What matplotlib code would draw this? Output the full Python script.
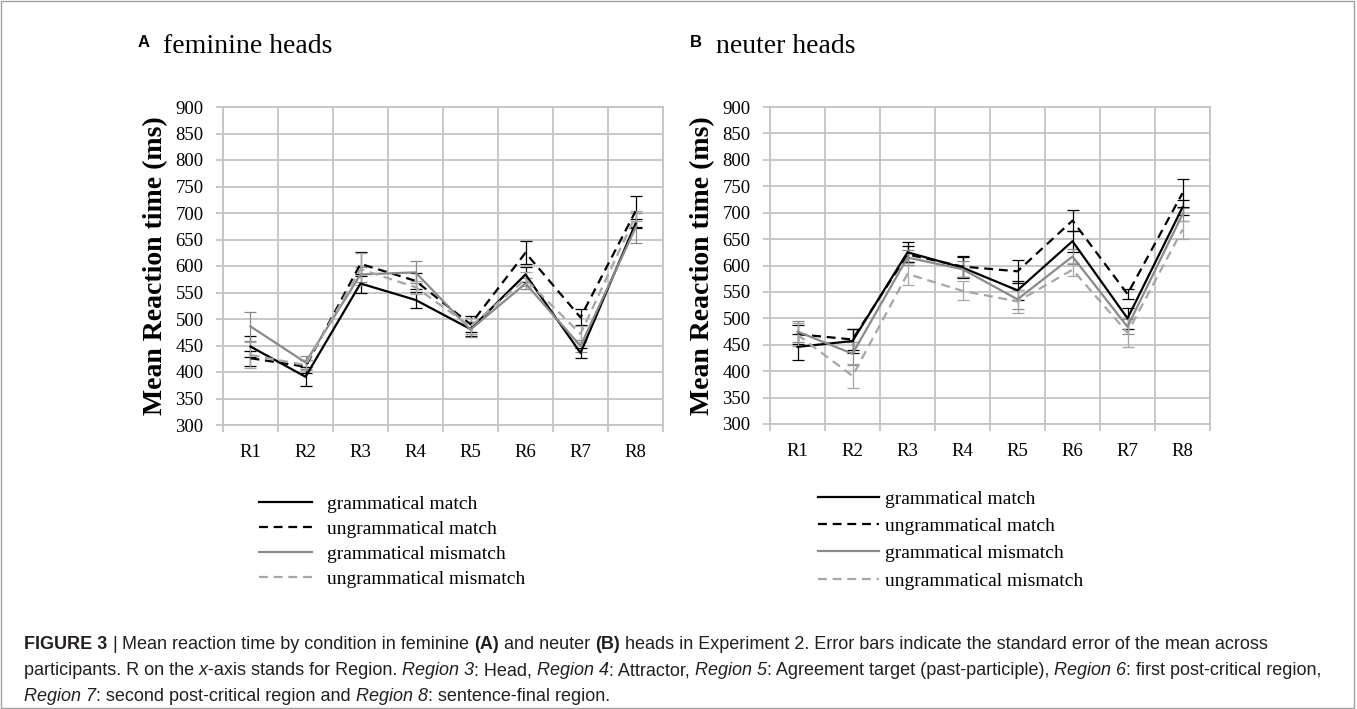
import matplotlib.pyplot as plt
from matplotlib.patches import Rectangle

# 데이터
regions = ['R1', 'R2', 'R3', 'R4', 'R5', 'R6', 'R7', 'R8']
conditions = ['grammatical match', 'ungrammatical match',
              'grammatical mismatch', 'ungrammatical mismatch']

# A: feminine heads
fem_gram_match = [448, 391, 567, 536, 481, 584, 436, 680]
fem_ungram_match = [426, 410, 604, 572, 490, 625, 503, 703]
fem_gram_mismatch = [486, 418, 584, 588, 480, 567, 449, 672]
fem_ungram_mismatch = [432, 413, 594, 560, 486, 575, 472, 694]
fem_gram_match_se = [20, 18, 17, 15, 13, 14, 10, 8]
fem_ungram_match_se = [14, 12, 22, 15, 15, 22, 15, 29]
fem_gram_mismatch_se = [28, 12, 15, 21, 14, 10, 12, 28]
fem_ungram_mismatch_se = [25, 10, 30, 12, 15, 13, 15, 10]

# B: neuter heads
neu_gram_match = [446, 457, 625, 596, 553, 646, 500, 710]
neu_ungram_match = [470, 460, 621, 598, 589, 685, 546, 737]
neu_gram_mismatch = [475, 433, 615, 593, 536, 617, 484, 697]
neu_ungram_mismatch = [469, 391, 584, 552, 532, 592, 473, 668]
neu_gram_match_se = [25, 23, 19, 20, 18, 20, 20, 14]
neu_ungram_match_se = [18, 20, 15, 20, 22, 20, 9, 27]
neu_gram_mismatch_se = [20, 22, 14, 15, 18, 14, 14, 12]
neu_ungram_mismatch_se = [22, 22, 20, 18, 22, 12, 28, 17]

colors = ['#000000', '#000000', '#8a8a8a', '#a6a6a6']
styles = ['-', (0, (4, 2.6)), '-', (0, (4, 2.6))]
grid_c = '#c4c4c4'
serif = 'Liberation Serif'
sans = 'Liberation Sans'

fig = plt.figure(figsize=(13.57, 7.09), dpi=100)
W, H = 1357, 709


def px_box(left, right, top, bottom):
    return [left / W, (H - bottom) / H, (right - left) / W, (bottom - top) / H]


def draw_panel(ax, means, ses, leg_xy, leg_hl, leg_pad, leg_space):
    x = list(range(1, len(regions) + 1))
    handles = []
    for m, s, c, ls in zip(means, ses, colors, styles):
        ax.errorbar(x, m, yerr=s, fmt='none', ecolor=c, elinewidth=0.9,
                    capsize=4, capthick=0.9, zorder=3)
        h, = ax.plot(x, m, color=c, linestyle=ls, linewidth=1.6, zorder=4)
        handles.append(h)

    ax.set_xlim(0.5, len(regions) + 0.5)
    ax.set_ylim(300, 900)
    ax.set_yticks(range(300, 901, 50))
    ax.set_xticks(x)
    ax.set_xticklabels(regions, fontsize=13.5, family=serif)
    ax.set_xticks([i + 0.5 for i in range(0, len(regions) + 1)], minor=True)
    ax.tick_params(axis='x', which='major', length=0, pad=14)
    ax.tick_params(axis='x', which='minor', length=5, color=grid_c, width=1.3)
    ax.tick_params(axis='y', length=5, color=grid_c, width=1.3, pad=9)
    for lab in ax.get_yticklabels():
        lab.set_fontsize(13.5)
        lab.set_family(serif)
    ax.grid(True, axis='y', color=grid_c, linewidth=1.3)
    ax.grid(True, axis='x', which='minor', color=grid_c, linewidth=1.3)
    ax.set_axisbelow(True)
    for sp in ax.spines.values():
        sp.set_color(grid_c)
        sp.set_linewidth(1.3)
    ax.set_ylabel('Mean Reaction time (ms)', fontsize=20, fontweight='bold',
                  family=serif, labelpad=5)

    ax.legend(handles, conditions, loc='upper left', bbox_to_anchor=leg_xy,
              bbox_transform=fig.transFigure, frameon=False,
              prop={'family': serif, 'size': 14}, handlelength=leg_hl,
              handletextpad=leg_pad, labelspacing=leg_space,
              borderpad=0, borderaxespad=0)


ax_a = fig.add_axes(px_box(223, 663, 107, 425))
draw_panel(ax_a,
           [fem_gram_match, fem_ungram_match, fem_gram_mismatch, fem_ungram_mismatch],
           [fem_gram_match_se, fem_ungram_match_se, fem_gram_mismatch_se, fem_ungram_mismatch_se],
           (259 / W, 1 - 495 / H), 2.7, 0.8, 0.38)

ax_b = fig.add_axes(px_box(770, 1210, 107, 424))
draw_panel(ax_b,
           [neu_gram_match, neu_ungram_match, neu_gram_mismatch, neu_ungram_mismatch],
           [neu_gram_match_se, neu_ungram_match_se, neu_gram_mismatch_se, neu_ungram_mismatch_se],
           (818 / W, 1 - 490 / H), 3.15, 0.3, 0.5)

# 패널 제목
fig.text(138 / W, 1 - 47 / H, 'A', fontsize=12, fontweight='bold', family=sans)
fig.text(163 / W, 1 - 53 / H, 'feminine heads', fontsize=20, family=serif)
fig.text(690 / W, 1 - 47 / H, 'B', fontsize=12, fontweight='bold', family=sans)
fig.text(716 / W, 1 - 53 / H, 'neuter heads', fontsize=20, family=serif)

# 바깥 테두리
fig.add_artist(Rectangle((0.001, 0.002), 0.997, 0.996, transform=fig.transFigure,
                         fill=False, edgecolor='#a0a0a0', linewidth=1))

# 캡션 (굵게/기울임 섞인 텍스트를 조각별로 배치)
cap_size = 13
renderer = fig.canvas.get_renderer()
space_px = cap_size * 0.278 * 100 / 72


def rich_line(x_px, y_px, parts):
    x = x_px
    for s, st in parts:
        lead = s.startswith(' ')
        trail = s.endswith(' ')
        if lead:
            x += space_px
        t = fig.text(x / W, 1 - y_px / H, s.strip(), fontsize=cap_size, family=sans,
                     color='#231f20', fontweight='bold' if 'b' in st else 'normal',
                     fontstyle='italic' if 'i' in st else 'normal', va='baseline')
        x += t.get_window_extent(renderer).width
        if trail:
            x += space_px


rich_line(24, 649, [('FIGURE 3', 'b'), (' |', ''),
                    (' Mean reaction time by condition in feminine ', ''), ('(A)', 'b'),
                    (' and neuter ', ''), ('(B)', 'b'),
                    (' heads in Experiment 2. Error bars indicate the standard error of the mean across', '')])
rich_line(24, 675, [('participants. R on the ', ''), ('x', 'i'),
                    ('-axis stands for Region. ', ''), ('Region 3', 'i'), (': Head, ', ''),
                    ('Region 4', 'i'), (': Attractor, ', ''), ('Region 5', 'i'),
                    (': Agreement target (past-participle), ', ''), ('Region 6', 'i'),
                    (': first post-critical region,', '')])
rich_line(24, 701, [('Region 7', 'i'), (': second post-critical region and ', ''),
                    ('Region 8', 'i'), (': sentence-final region.', '')])

fig.savefig('out.png', dpi=100)
